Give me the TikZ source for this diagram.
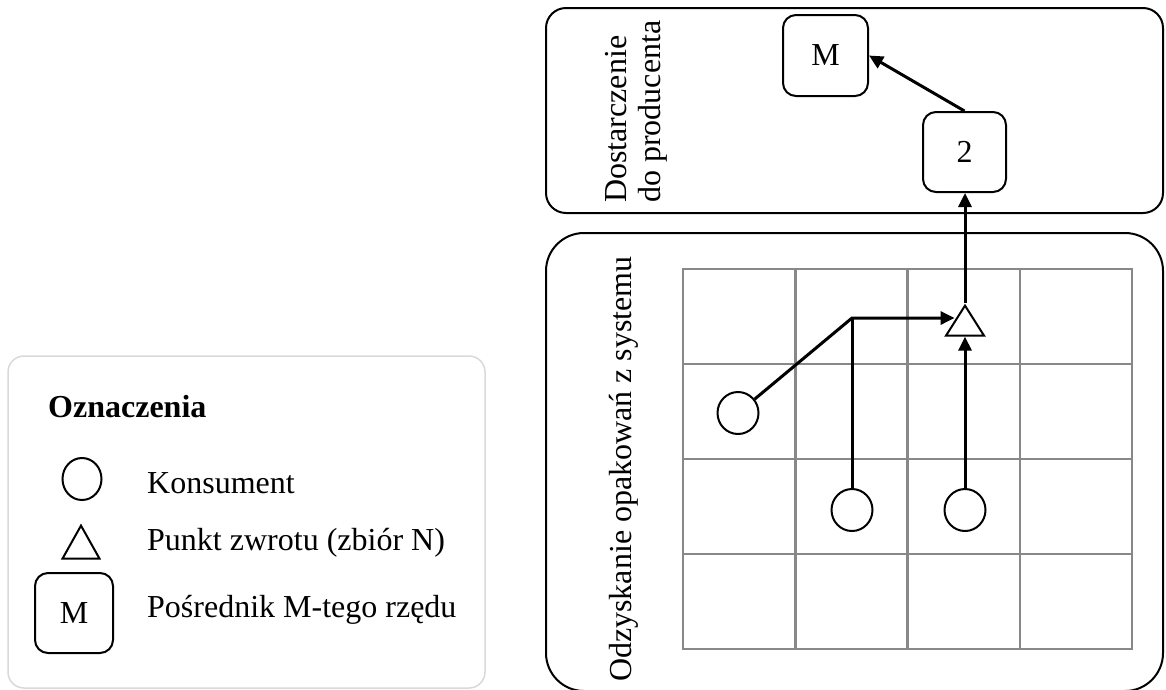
\documentclass[tikz,border=0pt]{standalone}
\usepackage{fontspec}
\setmainfont{Liberation Serif}
\usetikzlibrary{arrows.meta,shapes.geometric}
\definecolor{gridgray}{HTML}{888888}
\definecolor{legendgray}{HTML}{D9D9D9}
\begin{document}
\begin{tikzpicture}[x=1pt,y=-1pt,
  every node/.style={font=\fontsize{32}{38}\selectfont},
  frame/.style={draw, line width=2pt},
  rbox/.style={draw, line width=2pt, rounded corners=13pt, fill=white, inner sep=0pt},
  consumer/.style={ellipse, draw, line width=2pt, fill=white, inner sep=0pt,
    minimum width=41pt, minimum height=42pt},
  retpoint/.style={isosceles triangle, isosceles triangle stretches,
    shape border rotate=90, draw, line width=2pt, fill=white, inner sep=0pt},
  gridline/.style={draw=gridgray, line width=2.5pt, line cap=rect},
  link/.style={line width=3pt},
  flow/.style={line width=3pt, -{Triangle[length=14pt,width=13pt]}},
  label/.style={inner sep=0pt, anchor=base west},
  vlabel/.style={inner sep=0pt, anchor=base west, rotate=90}]
\useasboundingbox (0,0) rectangle (1166,689);

% stage frames
\draw[frame, rounded corners=20pt] (546,8) rectangle (1163,213);
\draw[frame, rounded corners=38pt] (546,233) rectangle (1163,691);

% service area grid
\foreach \x in {683,795.25,907.5,1019.75,1132}
  \draw[gridline] (\x,269) -- (\x,649);
\foreach \y in {269,364,459,554,649}
  \draw[gridline] (683,\y) -- (1132,\y);

% stage labels
\node[vlabel] (stageA1) at (626,203) {Dostarczenie};
\node[vlabel] (stageA2) at (660,203) {do producenta};
\node[vlabel] (stageB) at (631,682) {Odzyskanie opakowań z systemu};

% intermediaries
\node[rbox, minimum width=85pt, minimum height=81pt] (M) at (825.5,55.5) {M};
\node[rbox, minimum width=83pt, minimum height=80pt] (b2) at (964.5,152) {2};

% return point and consumers
\node[retpoint, minimum width=38pt, minimum height=30pt, anchor=apex] (t) at (965,303) {};
\node[consumer] (c1) at (738,413) {};
\node[consumer] (c2) at (852,510) {};
\node[consumer] (c3) at (965,510) {};
\coordinate (j) at (852,318);

% flows
\draw[flow] (c1) -- (j) -- (j -| t.left side);
\draw[link] (c2) -- (j);
\draw[flow] (c3) -- (c3 |- t.lower side);
\draw[flow] (t.apex) -- (t.apex |- b2.south);
\draw[flow] (b2.north) -- (M.east);

% legend
\draw[draw=legendgray, line width=1.5pt, rounded corners=16pt] (8,356) rectangle (485,688);
\node[label, font=\fontsize{32}{38}\selectfont\bfseries] (title) at (48,417) {Oznaczenia};
\node[consumer, minimum width=39pt, minimum height=42pt] (lc) at (82,479) {};
\node[retpoint, minimum width=37pt, minimum height=33pt, anchor=apex] (lt) at (81,523) {};
\node[rbox, minimum width=78pt, minimum height=80pt] (lm) at (74,613) {M};
\node[label] (lcText) at (147,493) {Konsument};
\node[label] (ltText) at (147,550) {Punkt zwrotu (zbiór N)};
\node[label] (lmText) at (147,617) {Pośrednik M-tego rzędu};
\end{tikzpicture}
\end{document}
